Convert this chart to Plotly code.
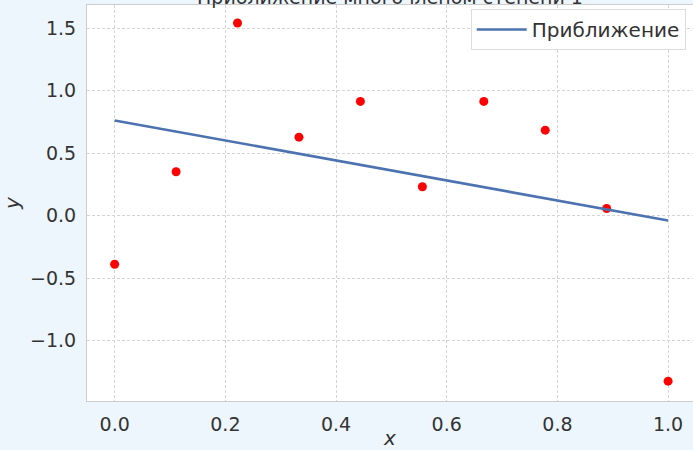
import plotly.graph_objects as go

# data
x_points = [0.0, 0.111, 0.222, 0.333, 0.444, 0.556, 0.667, 0.778, 0.889, 1.0]
y_points = [-0.39, 0.35, 1.54, 0.627, 0.913, 0.23, 0.913, 0.683, 0.056, -1.325]
line_x = [0.0, 1.0]
line_y = [0.76, -0.04]
x_ticks = [0.0, 0.2, 0.4, 0.6, 0.8, 1.0]
y_ticks = [-1.0, -0.5, 0.0, 0.5, 1.0, 1.5]
title_text = "Приближение многочленом степени 1"
legend_name = "Приближение"

font_family = "DejaVu Sans"
tick_color = "#333333"

fig = go.Figure()
fig.add_trace(go.Scatter(x=x_points, y=y_points, mode="markers",
                         marker=dict(color="red", size=9), showlegend=False))
fig.add_trace(go.Scatter(x=line_x, y=line_y, mode="lines", name=legend_name,
                         line=dict(color="#4c72b0", width=2.6)))

axis_common = dict(showgrid=True, gridcolor="#d4d4d4", griddash="3px,2px", gridwidth=1,
                   showline=True, linecolor="#cccccc", linewidth=1, mirror=True,
                   zeroline=False, ticks="", ticklabelstandoff=6,
                   tickfont=dict(family=font_family, size=19, color=tick_color))

fig.update_layout(
    width=693, height=450,
    margin=dict(l=87, r=0, t=5, b=49),
    paper_bgcolor="#edf6fc", plot_bgcolor="white",
    title=dict(text=title_text, x=0.5, xanchor="center", xref="paper",
               y=1.0, yref="paper", yanchor="bottom", pad=dict(b=1),
               font=dict(family=font_family, size=19, color=tick_color)),
    xaxis=dict(range=[-0.05, 1.045], tickvals=x_ticks, ticktext=[f"{v:.1f}" for v in x_ticks],
               title=dict(text="<i>x</i>", font=dict(family=font_family, size=20, color=tick_color), standoff=2),
               **axis_common),
    yaxis=dict(range=[-1.484, 1.684], tickvals=y_ticks,
               ticktext=[f"{v:.1f}".replace("-", "\u2212") for v in y_ticks],
               title=dict(text="<i>y</i>", font=dict(family=font_family, size=20, color=tick_color), standoff=8),
               **axis_common),
    legend=dict(x=0.988, y=0.99, xanchor="right", yanchor="top", bgcolor="white",
                bordercolor="#dddddd", borderwidth=1, itemwidth=50,
                font=dict(family=font_family, size=20, color=tick_color)),
)

fig.write_html("out.html", config={"displayModeBar": False},
               post_script="document.body.style.margin='0';")
